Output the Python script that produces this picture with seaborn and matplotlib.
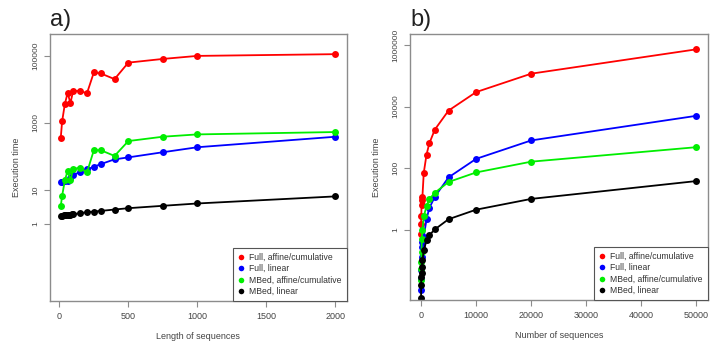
import matplotlib
matplotlib.use("Agg")
import matplotlib.pyplot as plt
from matplotlib.lines import Line2D
import seaborn as sns
import pandas as pd

# ---------------- data ----------------
series_names = ["Full, affine/cumulative", "Full, linear",
                "MBed, affine/cumulative", "MBed, linear"]
series_colors = ["#ff0000", "#0000ff", "#00ee00", "#000000"]

# panel a: length of sequences
len_x = [10, 20, 40, 60, 80, 100, 150, 200, 250, 300, 400, 500, 750, 1000, 2000]
len_full_affine = [363, 1120, 3720, 7760, 3890, 8910, 8910, 7590, 31600, 29500,
                   20000, 61700, 79400, 97700, 110000]
len_full_linear = [18, 18.2, 19, 18.6, 24, 28, 35.5, 41.7, 50, 60, 83, 95, 135, 190, 389]
len_mbed_affine = [3.4, 6.9, 20, 38, 20, 43, 47, 34, 155, 155, 105, 290, 390, 457, 537]
len_x_mbed_linear = [10, 20, 30, 40, 50, 60, 70, 80, 90, 100, 150, 200, 250, 300,
                     400, 500, 750, 1000, 2000]
len_mbed_linear = [1.76, 1.78, 1.80, 1.82, 1.84, 1.86, 1.88, 1.91, 1.93, 1.95, 2.09,
                   2.24, 2.34, 2.45, 2.69, 2.95, 3.47, 4.07, 6.6]

# panel b: number of sequences
num_x = [10, 20, 50, 100, 150, 250, 500, 1000, 1500, 2500, 5000, 10000, 20000, 50000]
num_full_affine = [0.71, 1.58, 2.75, 6.2, 8.9, 11.5, 70.8, 275, 631, 1780, 7410,
                   29500, 117000, 724000]
num_full_linear = [0.0112, 0.0251, 0.0501, 0.126, 0.282, 0.398, 0.589, 2.19, 5.01,
                   11.7, 50.1, 200, 794, 5010]
num_mbed_affine = [0.0224, 0.0537, 0.0891, 0.186, 0.513, 0.955, 2.75, 5.75, 9.77,
                   15.8, 35.5, 72.4, 162, 479]
num_mbed_linear = [0.006, 0.0155, 0.0288, 0.0398, 0.0617, 0.1, 0.214, 0.447, 0.661,
                   1.02, 2.19, 4.47, 10, 38]

a_xticks = [0, 500, 1000, 1500, 2000]
a_yticks = [1, 10, 1000, 100000]
b_xticks = [0, 10000, 20000, 30000, 40000, 50000]
b_yticks = [1, 100, 10000, 1000000]

# ---------------- style ----------------
sns.set_style("white")
plt.rcParams["font.family"] = ["Liberation Sans", "DejaVu Sans"]

fig = plt.figure(figsize=(7.19, 3.44), dpi=100)
ax_a = fig.add_axes([50 / 719, 1 - 301 / 344, 296.5 / 719, 267 / 344])
ax_b = fig.add_axes([410 / 719, 1 - 300 / 344, 297.5 / 719, 266 / 344])

tick_col = "#444444"
frame_col = "#8c8c8c"


def draw(ax, xs_list, ys_list):
    for xs, ys, col in zip(xs_list, ys_list, series_colors):
        df = pd.DataFrame({"x": xs, "y": ys})
        sns.lineplot(data=df, x="x", y="y", ax=ax, color=col, marker="o",
                     markersize=5, markeredgewidth=0, linewidth=1.3,
                     sort=False, estimator=None, legend=False)
    ax.set_yscale("log")


draw(ax_a, [len_x, len_x, len_x, len_x_mbed_linear],
     [len_full_affine, len_full_linear, len_mbed_affine, len_mbed_linear])
draw(ax_b, [num_x] * 4,
     [num_full_affine, num_full_linear, num_mbed_affine, num_mbed_linear])

ax_a.set_xlim(-68, 2082)
ax_a.set_ylim(10 ** -2.285, 10 ** 5.64)
ax_b.set_xlim(-2000, 52000)
ax_b.set_ylim(10 ** -2.284, 10 ** 6.357)

for ax, xt, yt, xl, panel in [
    (ax_a, a_xticks, a_yticks, "Length of sequences", "a)"),
    (ax_b, b_xticks, b_yticks, "Number of sequences", "b)"),
]:
    ax.set_xticks(xt)
    ax.set_xticklabels([str(v) for v in xt], fontsize=6.5, color=tick_col)
    ax.set_yticks(yt)
    ax.set_yticklabels([str(v) for v in yt], fontsize=6, color=tick_col,
                       rotation=90, va="center")
    ax.minorticks_off()
    ax.yaxis.set_minor_locator(matplotlib.ticker.NullLocator())
    ax.tick_params(axis="both", which="major", direction="out", length=4,
                   width=0.8, color=frame_col, pad=4, bottom=True, left=True)
    for s in ax.spines.values():
        s.set_color(frame_col)
        s.set_linewidth(1.0)
    ax.set_xlabel(xl, fontsize=6.5, color=tick_col, labelpad=8)
    ax.set_ylabel("Execution time", fontsize=6.5, color=tick_col, labelpad=8)
    ax.text(0.0, 1.012, panel, transform=ax.transAxes, fontsize=17,
            color="#222222", ha="left", va="bottom")

    handles = [Line2D([], [], linestyle="none", marker="o", markersize=4,
                      markeredgewidth=0, color=c) for c in series_colors]
    leg = ax.legend(handles, series_names, loc="lower right", fontsize=6.2,
                    frameon=True, fancybox=False, borderaxespad=0,
                    handlelength=0.6, handletextpad=0.7, labelspacing=0.3,
                    borderpad=0.55, edgecolor="#555555", framealpha=1)
    leg.get_frame().set_linewidth(0.8)
    for t in leg.get_texts():
        t.set_color("#333333")

fig.savefig("out.png", dpi=100)
